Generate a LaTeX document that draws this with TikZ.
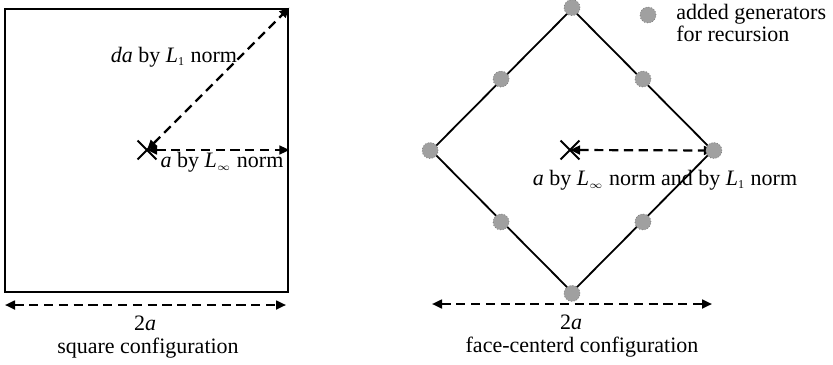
\documentclass[tikz,border=0pt]{standalone}
\usepackage{fontspec}
\setmainfont{Liberation Serif}
\usetikzlibrary{arrows.meta,calc,shapes.geometric,shapes.misc}
\definecolor{ink}{HTML}{000000}
\definecolor{genfill}{HTML}{A0A0A0}
\newcommand{\lsub}[1]{\textsubscript{\fontsize{6}{6}\selectfont#1}}
\tikzset{
  font=\fontsize{11}{11.3}\selectfont,
  >={Triangle[length=5pt,width=4.4pt]},
  dim/.style={draw=ink, line width=1.1pt, dash pattern=on 4.6pt off 2.8pt, <->},
  frame/.style={draw=ink, line width=1.4pt, inner sep=0pt},
  edge/.style={draw=ink, line width=.9pt, inner sep=0pt},
  gen/.style={circle, fill=genfill, draw=genfill!80!black, densely dotted,
    line width=.4pt, minimum size=8pt, inner sep=0pt},
  centre/.style={cross out, draw=ink, line width=.9pt,
    minimum size=8.5pt, inner sep=0pt},
  label/.style={inner sep=1pt}
}

\begin{document}
\begin{tikzpicture}[x=.5pt,y=-.5pt]
  \useasboundingbox (0,0) rectangle (833,364);

  % -------------------------------------------------------------------
  % Left: square configuration.
  \node[frame, minimum size=141.5pt] (sq) at (146.5,150.5) {};
  \node[centre] (crossA) at (147,150) {};
  \draw[dim] (crossA.center) -- (sq.north east);
  \draw[dim] (crossA.center) -- (crossA -| sq.east);
  \node[label] (lOne) at (174,57) {\textit{da} by \textit{L}\lsub{1} norm};
  \node[label] (lInf) at (222,162)
    {\textit{a} by \textit{L}\lsub{$\scriptstyle\infty$} norm};

  \coordinate (dimAl) at (5,305);
  \coordinate (dimAr) at (286,305);
  \draw[dim] (dimAl) -- (dimAr);
  \node[label] (twoA) at (145,323) {2\textit{a}};
  \node[label] (capA) at (148,348) {square configuration};

  % -------------------------------------------------------------------
  % Right: face-centred configuration.
  \node[edge, diamond, minimum width=141pt, minimum height=142pt]
    (dia) at (572,150.5) {};
  \node[centre] (crossB) at (570,150) {};
  \draw[dim] (crossB.center) -- (dia.east);
  \foreach \v in {north,east,south,west}
    \node[gen] (g-\v) at (dia.\v) {};
  \foreach \a/\b in {north/west,north/east,south/west,south/east}
    \node[gen] (m-\a-\b) at ($(dia.\a)!.5!(dia.\b)$) {};
  \node[label] (lBoth) at (665,180)
    {\textit{a} by \textit{L}\lsub{$\scriptstyle\infty$} norm and by
     \textit{L}\lsub{1} norm};

  \coordinate (dimBl) at (432,304);
  \coordinate (dimBr) at (712,304);
  \draw[dim] (dimBl) -- (dimBr);
  \node[label] (twoB) at (571,322) {2\textit{a}};
  \node[label] (capB) at (582,347) {face-centerd configuration};

  % legend
  \node[gen] (key) at (648,15) {};
  \node[label, anchor=west, align=left] (keyText) at (674,23)
    {added generators\\for recursion};
\end{tikzpicture}
\end{document}
